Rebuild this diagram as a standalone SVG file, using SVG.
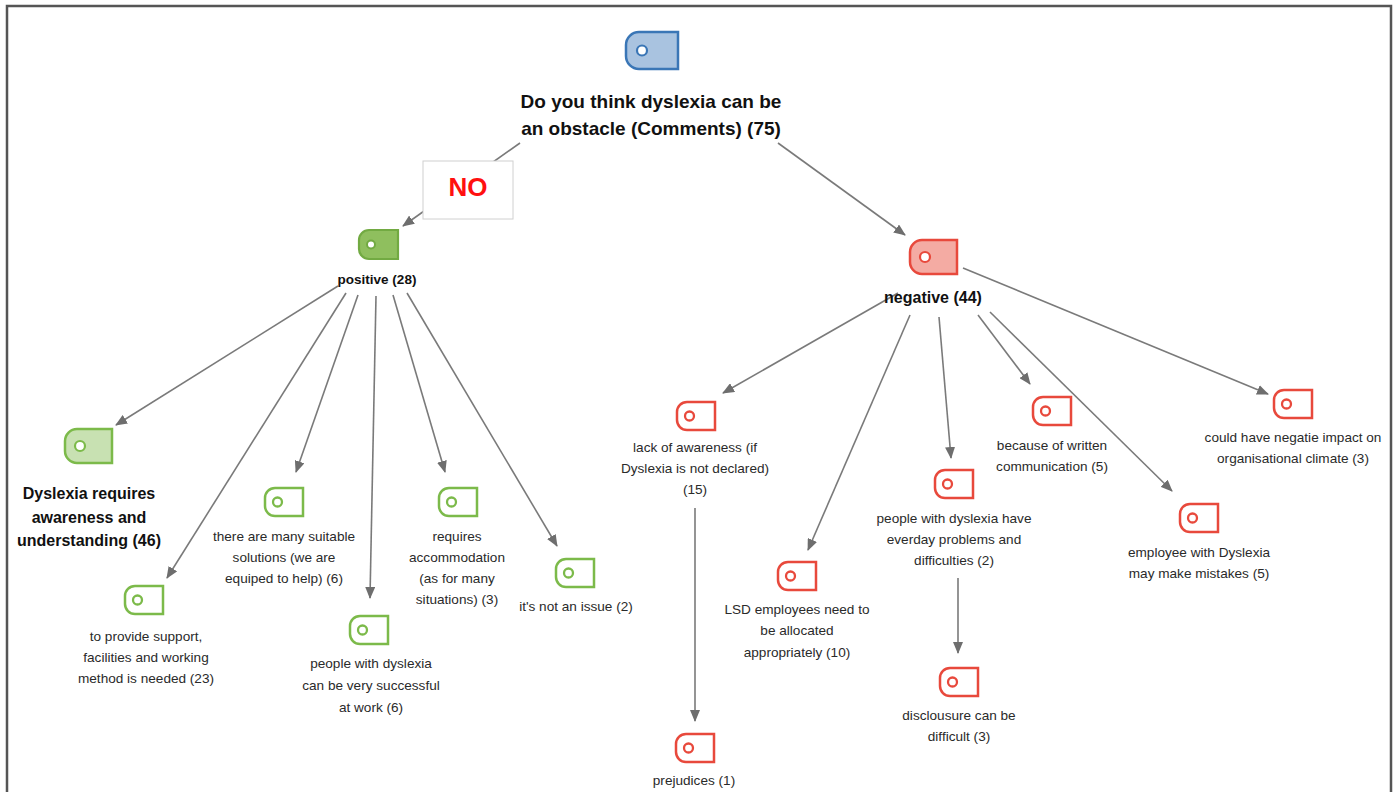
<svg xmlns="http://www.w3.org/2000/svg" width="1399" height="792" viewBox="0 0 1399 792">
<defs>
<marker id="ah" viewBox="0 0 12 10" refX="11" refY="5" markerWidth="12" markerHeight="10" markerUnits="userSpaceOnUse" orient="auto">
<path d="M0 0L12 5L0 10Z" fill="#6e6e6e"/>
</marker>
<style>
.e{stroke:#7a7a7a;stroke-width:1.6;fill:none;marker-end:url(#ah)}
.t{font-family:"Liberation Sans",Arial,sans-serif;font-size:13.6px;fill:#2a2a2a;text-anchor:middle}
.b{font-family:"Liberation Sans",Arial,sans-serif;font-weight:bold;fill:#111;text-anchor:middle}
.go{fill:#fff;stroke:#7cba4a;stroke-width:2.5}
.ro{fill:#fff;stroke:#e8493c;stroke-width:2.5}
.gc{fill:#fff;stroke:#7cba4a;stroke-width:2.3}
.rc{fill:#fff;stroke:#e8493c;stroke-width:2.3}
</style>
</defs>
<rect x="0" y="0" width="1399" height="792" fill="#fff"/>
<rect x="7" y="6" width="1384" height="800" fill="none" stroke="#555" stroke-width="2.5"/>

<g id="connectors">
<line class="e" x1="520" y1="143" x2="403" y2="226"/>
<line class="e" x1="778" y1="143" x2="905" y2="235"/>
<line class="e" x1="338" y1="286" x2="116" y2="425"/>
<line class="e" x1="346" y1="293" x2="167" y2="578"/>
<line class="e" x1="358" y1="295" x2="296" y2="472"/>
<line class="e" x1="376" y1="296" x2="370" y2="598"/>
<line class="e" x1="393" y1="295" x2="445" y2="472"/>
<line class="e" x1="407" y1="293" x2="557" y2="546"/>
<line class="e" x1="898" y1="293" x2="723" y2="393"/>
<line class="e" x1="910" y1="315" x2="808" y2="550"/>
<line class="e" x1="939" y1="317" x2="951" y2="458"/>
<line class="e" x1="978" y1="315" x2="1030" y2="384"/>
<line class="e" x1="990" y1="312" x2="1172" y2="491"/>
<line class="e" x1="963" y1="268" x2="1268" y2="394"/>
<line class="e" x1="695" y1="508" x2="695" y2="721"/>
<line class="e" x1="958" y1="578" x2="958" y2="653"/>
</g>

<g id="no-label">
<rect x="423" y="161" width="90" height="58" fill="#fff" stroke="#d0d0d0" stroke-width="1"/>
<text x="468" y="196" class="b" style="font-size:26px;fill:#ff1010">NO</text>
</g>

<g id="root">
<path d="M639 32H678V69H639A13 13 0 0 1 626 56V45A13 13 0 0 1 639 32Z" fill="#a9c3e0" stroke="#3a76b6" stroke-width="2.5"/>
<circle cx="642" cy="50.5" r="5" fill="#fff" stroke="#3a76b6" stroke-width="2.2"/>
<text x="651" y="108" class="b" style="font-size:19px">Do you think dyslexia can be</text>
<text x="651" y="135" class="b" style="font-size:19px">an obstacle (Comments) (75)</text>
</g>

<g id="positive">
<path d="M369 230H398V259H369A10 10 0 0 1 359 249V240A10 10 0 0 1 369 230Z" fill="#8fbf5e" stroke="#72aa42" stroke-width="2.2"/>
<circle cx="371" cy="244.5" r="4" fill="#fff" stroke="#72aa42" stroke-width="2"/>
<text x="377" y="284" class="b" style="font-size:13.5px">positive (28)</text>
</g>

<g id="negative">
<path d="M922 240H957V274H922A12 12 0 0 1 910 262V252A12 12 0 0 1 922 240Z" fill="#f4aba3" stroke="#e8493c" stroke-width="2.5"/>
<circle cx="925" cy="257" r="5" fill="#fff" stroke="#e8493c" stroke-width="2.2"/>
<text x="933" y="303" class="b" style="font-size:16px">negative (44)</text>
</g>

<g id="awareness">
<path d="M77 429H112V463H77A12 12 0 0 1 65 451V441A12 12 0 0 1 77 429Z" fill="#c8e1b2" stroke="#7cba4a" stroke-width="2.5"/>
<circle cx="80" cy="446" r="5" fill="#fff" stroke="#7cba4a" stroke-width="2.2"/>
<text x="89" y="499" class="b" style="font-size:16px">Dyslexia requires</text>
<text x="89" y="523" class="b" style="font-size:16px">awareness and</text>
<text x="89" y="546" class="b" style="font-size:16px">understanding (46)</text>
</g>

<g id="support">
<path class="go" d="M135 586H163V614H135A10 10 0 0 1 125 604V596A10 10 0 0 1 135 586Z"/>
<circle class="gc" cx="137.5" cy="600" r="4.5"/>
<text x="146" y="641" class="t">to provide support,</text>
<text x="146" y="662" class="t">facilities and working</text>
<text x="146" y="683" class="t">method is needed (23)</text>
</g>

<g id="solutions">
<path class="go" d="M275 488H303V516H275A10 10 0 0 1 265 506V498A10 10 0 0 1 275 488Z"/>
<circle class="gc" cx="277.5" cy="502" r="4.5"/>
<text x="284" y="541" class="t">there are many suitable</text>
<text x="284" y="562" class="t">solutions (we are</text>
<text x="284" y="583" class="t">equiped to help) (6)</text>
</g>

<g id="successful">
<path class="go" d="M360 616H388V644H360A10 10 0 0 1 350 634V626A10 10 0 0 1 360 616Z"/>
<circle class="gc" cx="362.5" cy="630" r="4.5"/>
<text x="371" y="668" class="t">people with dyslexia</text>
<text x="371" y="690" class="t">can be very successful</text>
<text x="371" y="712" class="t">at work (6)</text>
</g>

<g id="accommodation">
<path class="go" d="M449 488H477V516H449A10 10 0 0 1 439 506V498A10 10 0 0 1 449 488Z"/>
<circle class="gc" cx="451.5" cy="502" r="4.5"/>
<text x="457" y="541" class="t">requires</text>
<text x="457" y="562" class="t">accommodation</text>
<text x="457" y="583" class="t">(as for many</text>
<text x="457" y="604" class="t">situations) (3)</text>
</g>

<g id="not-issue">
<path class="go" d="M566 559H594V587H566A10 10 0 0 1 556 577V569A10 10 0 0 1 566 559Z"/>
<circle class="gc" cx="568.5" cy="573" r="4.5"/>
<text x="576" y="611" class="t">it's not an issue (2)</text>
</g>

<g id="lack">
<path class="ro" d="M687 402H715V430H687A10 10 0 0 1 677 420V412A10 10 0 0 1 687 402Z"/>
<circle class="rc" cx="689.5" cy="416" r="4.5"/>
<text x="695" y="452" class="t">lack of awareness (if</text>
<text x="695" y="473" class="t">Dyslexia is not declared)</text>
<text x="695" y="494" class="t">(15)</text>
</g>

<g id="lsd">
<path class="ro" d="M788 562H816V590H788A10 10 0 0 1 778 580V572A10 10 0 0 1 788 562Z"/>
<circle class="rc" cx="790.5" cy="576" r="4.5"/>
<text x="797" y="614" class="t">LSD employees need to</text>
<text x="797" y="635" class="t">be allocated</text>
<text x="797" y="657" class="t">appropriately (10)</text>
</g>

<g id="everyday">
<path class="ro" d="M945 470H973V498H945A10 10 0 0 1 935 488V480A10 10 0 0 1 945 470Z"/>
<circle class="rc" cx="947.5" cy="484" r="4.5"/>
<text x="954" y="523" class="t">people with dyslexia have</text>
<text x="954" y="544" class="t">everday problems and</text>
<text x="954" y="565" class="t">difficulties (2)</text>
</g>

<g id="disclosure">
<path class="ro" d="M950 668H978V696H950A10 10 0 0 1 940 686V678A10 10 0 0 1 950 668Z"/>
<circle class="rc" cx="952.5" cy="682" r="4.5"/>
<text x="959" y="720" class="t">disclousure can be</text>
<text x="959" y="741" class="t">difficult (3)</text>
</g>

<g id="prejudices">
<path class="ro" d="M686 734H714V762H686A10 10 0 0 1 676 752V744A10 10 0 0 1 686 734Z"/>
<circle class="rc" cx="688.5" cy="748" r="4.5"/>
<text x="694" y="785" class="t">prejudices (1)</text>
</g>

<g id="written">
<path class="ro" d="M1043 397H1071V425H1043A10 10 0 0 1 1033 415V407A10 10 0 0 1 1043 397Z"/>
<circle class="rc" cx="1045.5" cy="411" r="4.5"/>
<text x="1052" y="450" class="t">because of written</text>
<text x="1052" y="471" class="t">communication (5)</text>
</g>

<g id="mistakes">
<path class="ro" d="M1190 504H1218V532H1190A10 10 0 0 1 1180 522V514A10 10 0 0 1 1190 504Z"/>
<circle class="rc" cx="1192.5" cy="518" r="4.5"/>
<text x="1199" y="557" class="t">employee with Dyslexia</text>
<text x="1199" y="578" class="t">may make mistakes (5)</text>
</g>

<g id="climate">
<path class="ro" d="M1284 390H1312V418H1284A10 10 0 0 1 1274 408V400A10 10 0 0 1 1284 390Z"/>
<circle class="rc" cx="1286.5" cy="404" r="4.5"/>
<text x="1293" y="442" class="t">could have negatie impact on</text>
<text x="1293" y="463" class="t">organisational climate (3)</text>
</g>
</svg>
